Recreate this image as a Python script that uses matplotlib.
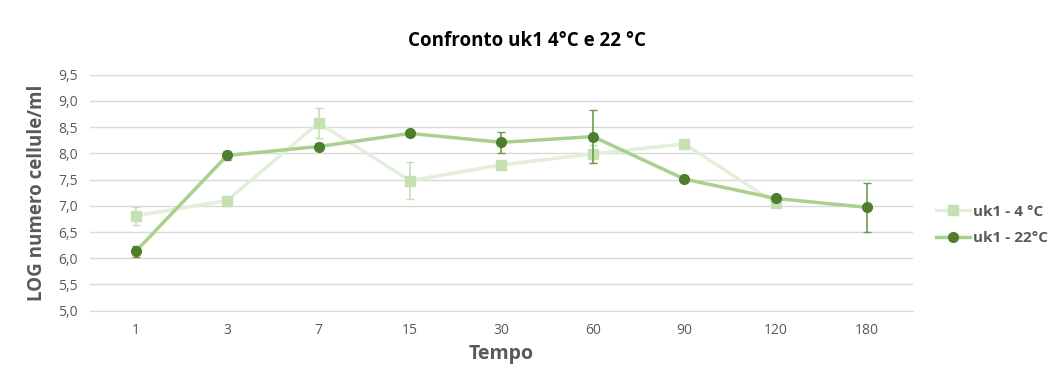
import matplotlib.pyplot as plt
import numpy as np
from matplotlib.ticker import FuncFormatter
from matplotlib.lines import Line2D

# data
tempo = ['1', '3', '7', '15', '30', '60', '90', '120', '180']
uk1_4 = [6.81, 7.10, 8.58, 7.48, 7.78, 7.99, 8.18, 7.05, np.nan]
uk1_4_err = [0.17, 0.04, 0.29, 0.35, 0.04, 0.17, 0.04, 0.04, np.nan]
uk1_22 = [6.13, 7.96, 8.13, 8.38, 8.21, 8.32, 7.51, 7.14, 6.97]
uk1_22_err = [0.10, 0.08, 0.06, 0.05, 0.20, 0.50, 0.05, 0.04, 0.47]

plt.rcParams['font.family'] = ['Open Sans', 'DejaVu Sans']

fig = plt.figure(figsize=(10.53, 3.81), dpi=100)
ax = fig.add_axes([0.0855, 0.1845, 0.7815, 0.6195])

x = np.arange(len(tempo))

ax.errorbar(x, uk1_4, yerr=uk1_4_err, color='#e2efda', lw=2.5,
            marker='s', ms=7, mfc='#c5e0b3', mec='#c5e0b3',
            ecolor='#c5e0b3', elinewidth=1.2, capsize=3, zorder=2)
ax.errorbar(x, uk1_22, yerr=uk1_22_err, color='#a9d18e', lw=2.5,
            marker='o', ms=7, mfc='#4e7d2c', mec='#4e7d2c',
            ecolor='#6e9a4e', elinewidth=1.2, capsize=3, zorder=3)

ax.set_xlim(-0.5, len(tempo) - 0.5)
ax.set_ylim(5.0, 9.5)
ax.set_yticks(np.arange(5.0, 9.51, 0.5))
ax.yaxis.set_major_formatter(FuncFormatter(lambda v, p: f'{v:.1f}'.replace('.', ',')))
ax.set_xticks(x)
ax.set_xticklabels(tempo)
ax.grid(axis='y', color='#d9d9d9', lw=1)
ax.set_axisbelow(True)
for s in ['top', 'right', 'left']:
    ax.spines[s].set_visible(False)
ax.spines['bottom'].set_color('#d9d9d9')
ax.tick_params(length=0, colors='#595959', labelsize=10, pad=9)

ax.set_xlabel('Tempo', fontsize=14, fontweight='bold', color='#595959', labelpad=4)
ax.set_ylabel('LOG numero cellule/ml', fontsize=13.5, fontweight='bold', color='#595959', labelpad=8)
fig.text(0.5, 0.88, 'Confronto uk1 4°C e 22 °C', ha='center', fontsize=13.5, fontweight='bold')

handles = [
    Line2D([], [], color='#e2efda', lw=2.5, marker='s', ms=7, mfc='#c5e0b3', mec='#c5e0b3'),
    Line2D([], [], color='#a9d18e', lw=2.5, marker='o', ms=7, mfc='#4e7d2c', mec='#4e7d2c'),
]
fig.legend(handles, ['uk1 - 4 °C', 'uk1 - 22°C'], loc='center left',
           bbox_to_anchor=(0.889, 0.41), frameon=False, borderpad=0, borderaxespad=0,
           labelcolor='#595959', handlelength=2.2, labelspacing=0.8, handletextpad=0.2,
           prop={'weight': 'bold', 'size': 11})

fig.savefig('out.png', dpi=100)
